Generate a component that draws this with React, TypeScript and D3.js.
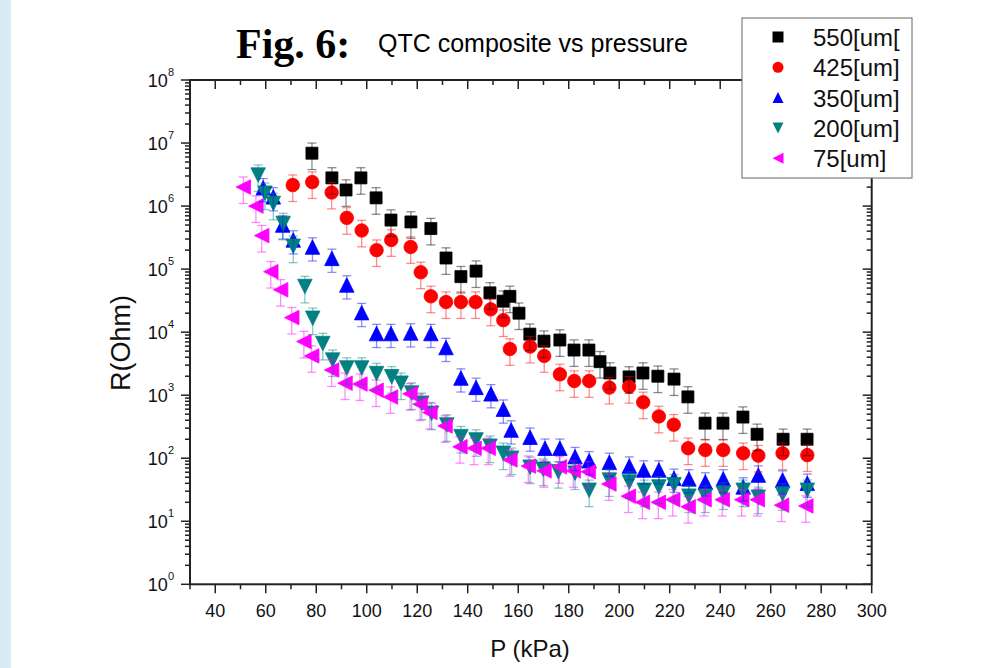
import React from 'react';
import * as d3 from 'd3';

// pressure (kPa) and resistance (Ohm), one pair of arrays per grain size
const p550 = [78.3, 86.2, 91.8, 97.7, 103.7, 109.6, 117.5, 125.4, 131.4, 137.3, 143.3, 148.8, 154.0, 156.7, 160.3, 164.6, 170.2, 176.5, 182.1, 188.0, 192.4, 196.3, 203.9, 209.4, 215.3, 221.7, 227.2, 234.0, 241.1, 249.0, 254.6, 264.9, 274.4];
const r550 = [6.9e6, 2.8e6, 1.8e6, 2.8e6, 1.35e6, 6.0e5, 5.6e5, 4.4e5, 1.5e5, 7.6e4, 9.3e4, 4.2e4, 3.1e4, 3.7e4, 2.0e4, 9.3e3, 7.2e3, 7.5e3, 5.2e3, 5.2e3, 3.4e3, 2.25e3, 1.95e3, 2.25e3, 2.0e3, 1.8e3, 940, 360, 360, 450, 240, 200, 200];

const p425 = [70.7, 78.4, 86.1, 92.1, 98.0, 103.9, 109.7, 117.4, 121.4, 125.4, 131.4, 137.3, 143.1, 149.1, 154.1, 156.7, 164.7, 170.3, 176.5, 182.2, 188.1, 196.1, 203.9, 209.5, 215.7, 221.6, 227.3, 234.1, 241.2, 249.1, 255.1, 264.7, 274.5];
const r425 = [2.15e6, 2.4e6, 1.64e6, 6.5e5, 4.1e5, 2.0e5, 2.9e5, 2.24e5, 8.9e4, 3.7e4, 3.0e4, 3.0e4, 3.0e4, 2.3e4, 1.55e4, 5.4e3, 5.9e3, 4.2e3, 2.14e3, 1.68e3, 1.68e3, 1.32e3, 1.36e3, 770, 460, 340, 144, 135, 135, 120, 110, 120, 112];

const p350 = [59.0, 63.0, 66.7, 70.9, 78.5, 86.2, 92.1, 98.0, 103.9, 109.6, 117.4, 125.4, 131.4, 137.3, 143.3, 149.2, 154.1, 157.2, 164.7, 170.6, 176.5, 182.5, 188.1, 196.1, 204.0, 209.7, 215.7, 221.7, 227.6, 234.1, 241.2, 249.1, 255.1, 264.7, 274.5];
const r350 = [1.95e6, 1.4e6, 5.0e5, 2.9e5, 2.24e5, 1.48e5, 5.6e4, 2.04e4, 9.5e3, 9.5e3, 9.7e3, 9.5e3, 5.7e3, 1.87e3, 1.33e3, 1.05e3, 600, 280, 215, 144, 144, 106, 91, 86, 75, 65, 65, 48, 47, 42, 47, 35, 54, 45, 40];

const p200 = [57.0, 59.7, 63.0, 66.9, 70.9, 75.5, 78.6, 82.6, 86.5, 92.1, 98.0, 103.9, 109.9, 113.6, 117.8, 121.8, 125.7, 131.7, 137.3, 143.3, 148.8, 154.1, 157.4, 164.7, 169.9, 175.9, 182.5, 188.1, 196.1, 204.0, 209.9, 215.7, 221.7, 227.6, 234.1, 241.2, 249.1, 255.1, 264.7, 274.5];
const r200 = [3.1e6, 1.6e6, 1.1e6, 5.3e5, 2.3e5, 5.3e4, 1.66e4, 6.6e3, 3.6e3, 2.7e3, 2.7e3, 2.2e3, 1.96e3, 1.55e3, 1.08e3, 745, 515, 337, 220, 195, 155, 120, 100, 72, 67, 61, 58, 31, 45, 42, 31, 35, 38, 25, 25, 28, 31, 24, 27, 31];

const p75 = [51.1, 56.1, 58.4, 62.0, 65.9, 70.3, 75.1, 78.2, 86.1, 91.4, 97.3, 103.7, 109.4, 117.1, 121.1, 125.0, 131.0, 136.9, 142.5, 148.1, 156.7, 164.0, 170.2, 176.3, 181.8, 187.7, 195.9, 203.6, 209.2, 215.5, 221.2, 227.3, 233.6, 240.8, 248.5, 254.7, 264.3, 273.9];
const r75 = [2.0e6, 1.0e6, 3.4e5, 9.1e4, 4.7e4, 1.7e4, 7.1e3, 4.2e3, 2.5e3, 1.55e3, 1.5e3, 1.2e3, 935, 1.05e3, 720, 530, 325, 152, 144, 144, 94, 75, 63, 73, 63, 61, 39, 25, 20, 20, 22, 17, 22, 22, 22, 22, 18, 17.5];

const seriesLabels = ['550[um[', '425[um]', '350[um]', '200[um]', '75[um]'];
const seriesColors = ['#000000', '#ff0000', '#0000ff', '#008080', '#ff00ff'];
const seriesMarkers = ['square', 'circle', 'up', 'down', 'left'];
// relative error of each measurement, per series
const errFrac = [0.45, 0.45, 0.4, 0.45, 0.45];

const xTickLabels = ['40', '60', '80', '100', '120', '140', '160', '180', '200', '220', '240', '260', '280', '300'];
const yExponents = [0, 1, 2, 3, 4, 5, 6, 7, 8];

const FONT = "'Liberation Sans', Arial, sans-serif";

const series = [
  { p: p550, r: r550 },
  { p: p425, r: r425 },
  { p: p350, r: r350 },
  { p: p200, r: r200 },
  { p: p75, r: r75 },
];

function markerPath(kind: string, s: number): string {
  const h = s / 2;
  if (kind === 'square') return d3.symbol(d3.symbolSquare, s * s)() as string;
  if (kind === 'circle') return d3.symbol(d3.symbolCircle, Math.PI * h * h)() as string;
  const p = d3.path();
  if (kind === 'up') {
    p.moveTo(0, -h); p.lineTo(h, h); p.lineTo(-h, h);
  } else if (kind === 'down') {
    p.moveTo(0, h); p.lineTo(h, -h); p.lineTo(-h, -h);
  } else {
    p.moveTo(-h, 0); p.lineTo(h, -h); p.lineTo(h, h);
  }
  p.closePath();
  return p.toString();
}

const App: React.FC = () => {
  const left = 190, right = 871.7, top = 80, bottom = 584.3;

  const x = d3.scaleLinear().domain([30, 300]).range([left, right]);
  const y = d3.scaleLog().domain([1, 1e8]).range([bottom, top]);

  const xMinor = d3.range(30, 301, 10);
  const yMinor: number[] = [];
  yExponents.slice(0, -1).forEach(e => {
    for (let m = 2; m <= 9; m++) yMinor.push(m * Math.pow(10, e));
  });

  const markerSize = [12, 13.5, 14.5, 14.5, 14.5];
  const capW = 9;

  return (
    <svg width={997} height={668} style={{ position: 'absolute', left: 0, top: 0, display: 'block' }}>
      <rect x={0} y={0} width={997} height={668} fill="#ffffff" />
      <rect x={0} y={0} width={11} height={668} fill="#d9ecf5" />

      {/* title */}
      <text x={236} y={58} fontFamily="'Liberation Serif', 'Times New Roman', serif" fontWeight="bold" fontSize={42} fill="#000">Fig. 6:</text>
      <text x={378} y={52} fontFamily={FONT} fontSize={25} fill="#000">QTC composite vs pressure</text>

      <g stroke="#222" strokeWidth={1.5}>
        {/* bottom ticks (outward) */}
        {xMinor.map(v => (
          <line key={`xb${v}`} x1={x(v)} x2={x(v)} y1={bottom} y2={bottom + (v % 20 === 0 ? 9 : 5)} />
        ))}
        {/* top ticks (inward) */}
        {xMinor.map(v => (
          <line key={`xt${v}`} x1={x(v)} x2={x(v)} y1={top} y2={top + (v % 20 === 0 ? 9 : 5)} />
        ))}
        {/* left ticks (outward) */}
        {yExponents.map(e => (
          <line key={`yl${e}`} x1={left - 9} x2={left} y1={y(Math.pow(10, e))} y2={y(Math.pow(10, e))} />
        ))}
        {yMinor.map(v => (
          <line key={`ylm${v}`} x1={left - 5} x2={left} y1={y(v)} y2={y(v)} />
        ))}
        {/* right ticks (inward) */}
        {yExponents.map(e => (
          <line key={`yr${e}`} x1={right - 9} x2={right} y1={y(Math.pow(10, e))} y2={y(Math.pow(10, e))} />
        ))}
        {yMinor.map(v => (
          <line key={`yrm${v}`} x1={right - 5} x2={right} y1={y(v)} y2={y(v)} />
        ))}
      </g>

      {/* frame */}
      <rect x={left} y={top} width={right - left} height={bottom - top} fill="none" stroke="#222" strokeWidth={2} />

      {/* x tick labels */}
      {xTickLabels.map(t => (
        <text key={`xl${t}`} x={x(+t)} y={bottom + 33} textAnchor="middle" fontFamily={FONT} fontSize={18} fill="#111">{t}</text>
      ))}

      {/* y tick labels */}
      {yExponents.map(e => (
        <text key={`ylab${e}`} x={174} y={y(Math.pow(10, e)) + 7} textAnchor="end" fontFamily={FONT} fontSize={18} fill="#111">
          10<tspan dy={-11} fontSize={11}>{e}</tspan>
        </text>
      ))}

      {/* axis titles */}
      <text x={530} y={657} textAnchor="middle" fontFamily={FONT} fontSize={24} fill="#111">P (kPa)</text>
      <text transform="translate(130,343) rotate(-90)" textAnchor="middle" fontFamily={FONT} fontSize={27} fill="#111">R(Ohm)</text>

      {/* markers */}
      {series.map((s, si) => (
        <g key={`m${si}`} fill={seriesColors[si]} stroke={seriesColors[si]} strokeWidth={0.8}>
          {s.p.map((pv, i) => (
            <path key={i} d={markerPath(seriesMarkers[si], markerSize[si])} transform={`translate(${x(pv)},${y(s.r[i])})`} />
          ))}
        </g>
      ))}

      {/* error bars, drawn over the markers */}
      {series.map((s, si) => (
        <g key={`e${si}`} stroke={seriesColors[si]} strokeOpacity={0.45} strokeWidth={1.3} fill="none">
          {s.p.map((pv, i) => {
            const cx = x(pv);
            const hi = y(s.r[i] * (1 + errFrac[si]));
            const lo = y(s.r[i] * (1 - errFrac[si]));
            return (
              <g key={i}>
                <line x1={cx} x2={cx} y1={hi} y2={lo} />
                <line x1={cx - capW / 2} x2={cx + capW / 2} y1={hi} y2={hi} />
                <line x1={cx - capW / 2} x2={cx + capW / 2} y1={lo} y2={lo} />
              </g>
            );
          })}
        </g>
      ))}

      {/* legend */}
      <rect x={742} y={18} width={170} height={160} fill="#ffffff" stroke="#666" strokeWidth={1} />
      {seriesLabels.map((lab, i) => (
        <g key={`lg${i}`} transform={`translate(0,${37 + i * 30.3})`}>
          <path d={markerPath(seriesMarkers[i], 11)} transform="translate(778,0)" fill={seriesColors[i]} />
          <text x={813} y={9} fontFamily={FONT} fontSize={24} fill="#111">{lab}</text>
        </g>
      ))}
    </svg>
  );
};

export default App;
